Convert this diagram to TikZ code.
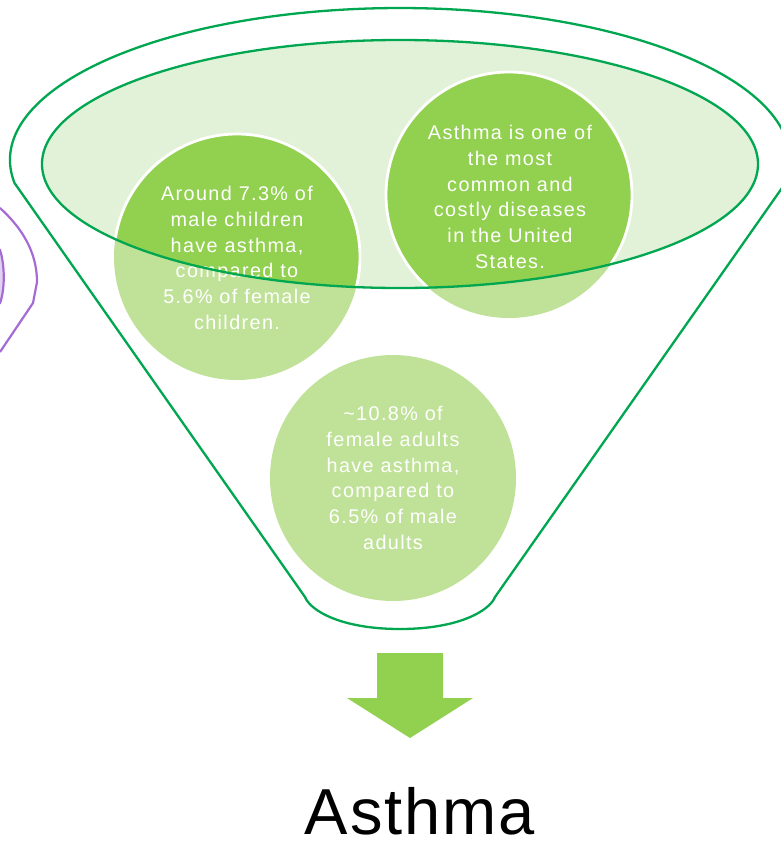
\documentclass[tikz,border=0pt]{standalone}
\usepackage{fontspec}
\setmainfont{Liberation Sans}
\newfontfamily\bubblefont[LetterSpace=7]{Liberation Sans}
\newfontfamily\titlefont[LetterSpace=3]{Liberation Sans}
\usepackage{tikz}
\definecolor{funnelrim}{RGB}{0,166,80}
\definecolor{funneltop}{RGB}{226,242,216}
\definecolor{leafdark}{RGB}{146,208,80}
\definecolor{leaflight}{RGB}{192,226,152}
\definecolor{plum}{RGB}{165,107,213}
\definecolor{lavender}{RGB}{226,210,242}
\tikzstyle{rim} = [draw=funnelrim, line width=2.3pt]
\tikzstyle{bubble} = [circle, minimum size=246pt, inner sep=0pt, fill=leaflight]
\tikzstyle{bubbletop} = [fill=leafdark, draw=white, line width=2.8pt]
\tikzstyle{note} = [text=white, align=center, inner sep=0pt,
    font=\bubblefont\fontsize{19.8}{25.8}\selectfont]
\tikzstyle{title} = [anchor=base, inner sep=0pt, font=\titlefont\fontsize{65}{70}\selectfont]

\begin{document}
\begin{tikzpicture}[x=1pt, y=1pt]
            \clip (0,0) rectangle (781,-841);

            \draw[draw=plum, line width=2.2pt, fill=lavender] (-40,-250) -- (0,-250)
                .. controls (5,-265) and (5,-290) .. (0,-303) -- (-40,-303);
            \draw[draw=plum, line width=2.2pt] (0,-208)
                .. controls (22,-228) and (37,-252) .. (37,-282)
                -- (33,-303) -- (0,-352);

            \fill[funneltop] (400,-164) ellipse[x radius=358pt, y radius=124pt];

            \node[bubble] (kids) at (237,-257) {};
            \node[bubble] (costly) at (509,-195) {};
            \node[bubble] (adults) at (393,-478) {};

            \begin{scope}
                \clip (400,-164) ellipse[x radius=358pt, y radius=124pt];
                \draw[bubbletop] (kids.center) circle (123pt);
                \draw[bubbletop] (costly.center) circle (123pt);
            \end{scope}

            \node[note] (kidstext) at (237,-258)
                {Around 7.3\% of\\male children\\have asthma,\\compared to\\5.6\% of female\\children.};
            \node[note] (costlytext) at (510,-197)
                {Asthma is one of\\the most\\common and\\costly diseases\\in the United\\States.};
            \node[note] (adultstext) at (393,-478)
                {\textasciitilde10.8\% of\\female adults\\have asthma,\\compared to\\6.5\% of male\\adults};

            \draw[rim] (400,-164) ellipse[x radius=358pt, y radius=124pt];
            \draw[rim] (14.5,-183)
                arc[start angle=188.7, end angle=-8.7, x radius=390pt, y radius=152pt]
                -- (495,-597)
                .. controls (490,-610) and (460,-629) .. (400,-629)
                .. controls (340,-629) and (310,-610) .. (305,-597)
                -- cycle;

            \fill[leafdark] (377,-653) -- (443,-653) -- (443,-698) -- (473,-698)
                -- (410,-738) -- (347,-698) -- (377,-698) -- cycle;

            \node[title] (heading) at (420,-834) {Asthma};
\end{tikzpicture}
\end{document}
